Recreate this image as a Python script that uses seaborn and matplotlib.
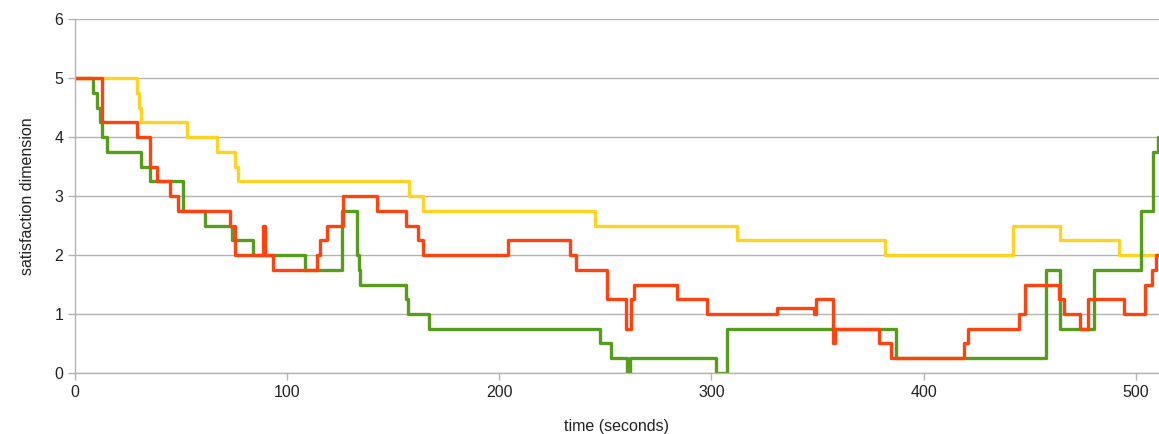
import pandas as pd
import seaborn as sns
import matplotlib.pyplot as plt

# step series: time (s) where the value changes, and the new value
yellow_t = [0, 29, 30, 31, 52.8, 67, 75.5, 77, 157.5, 164, 245, 312, 382, 442, 464.5, 492, 511]
yellow_v = [5, 4.75, 4.5, 4.25, 4.0, 3.75, 3.5, 3.25, 3.0, 2.75, 2.5, 2.25, 2.0, 2.5, 2.25, 2.0, 2.0]

red_t = [0, 12.6, 29, 35.4, 38.5, 44.8, 48.7, 73, 75.5, 88.8, 89.6, 93.5, 114.3, 115.5, 118.7,
         126.5, 142.3, 156, 161.7, 164, 204, 233.5, 236, 250.8, 259.7, 262.3, 263.3, 283.8, 298,
         330.7, 348.3, 349.5, 357.4, 358.5, 379, 384.8, 419, 421, 445, 448, 463.8, 466, 473.7,
         477.5, 494.5, 504.2, 507.9, 509.4, 511]
red_v = [5, 4.25, 4.0, 3.5, 3.25, 3.0, 2.75, 2.5, 2.0, 2.5, 2.0, 1.75, 2.0, 2.25, 2.5,
         3.0, 2.75, 2.5, 2.25, 2.0, 2.25, 2.0, 1.75, 1.25, 0.75, 1.25, 1.5, 1.25, 1.0,
         1.1, 1.0, 1.25, 0.5, 0.75, 0.5, 0.25, 0.5, 0.75, 1.0, 1.5, 1.25, 1.0, 0.75,
         1.25, 1.0, 1.5, 1.75, 2.0, 2.0]

green_t = [0, 8.6, 10.5, 11.8, 12.6, 14.9, 31, 35.4, 50.8, 61.3, 73.9, 84.1, 108.5, 126,
           133, 133.8, 134.5, 156, 157, 166.7, 247.5, 252.8, 260.3, 261.5, 302.2, 307.5,
           387.2, 457.5, 464.5, 480.5, 502.7, 508.3, 510.5, 511]
green_v = [5, 4.75, 4.5, 4.25, 4.0, 3.75, 3.5, 3.25, 2.75, 2.5, 2.25, 2.0, 1.75, 2.75,
           2.0, 1.75, 1.5, 1.25, 1.0, 0.75, 0.5, 0.25, 0, 0.25, 0, 0.75,
           0.25, 1.75, 0.75, 1.75, 2.75, 3.75, 4.0, 4.0]

sns.set_style("white")
plt.rcParams["font.family"] = ["Liberation Sans", "DejaVu Sans"]

fig = plt.figure(figsize=(11.59, 4.34), dpi=100)
ax = fig.add_axes([0.0647, 0.1406, 0.9353, 0.8154])

# yellow first, red last so it sits on top like in the original
series = [(yellow_t, yellow_v, "#FFD320"), (green_t, green_v, "#579D1C"), (red_t, red_v, "#FF420E")]
for t, v, c in series:
    df = pd.DataFrame({"time": t, "value": v})
    sns.lineplot(data=df, x="time", y="value", ax=ax, color=c, linewidth=2.4,
                 drawstyle="steps-post", estimator=None, sort=False)

ax.set_xlim(0, 511)
ax.set_ylim(0, 6)
ax.set_xticks([0, 100, 200, 300, 400, 500])
ax.set_yticks(range(7))
ax.yaxis.grid(True, color="#b3b3b3", linewidth=1)
ax.xaxis.grid(False)
ax.set_axisbelow(True)
for s in ["top", "right"]:
    ax.spines[s].set_visible(False)
for s in ["left", "bottom"]:
    ax.spines[s].set_color("#b3b3b3")
    ax.spines[s].set_linewidth(1)
ax.tick_params(axis="both", colors="#b3b3b3", labelcolor="#222222", labelsize=11.5,
               length=5, width=1, direction="out", left=True, bottom=True)
ax.set_xlabel("time (seconds)", fontsize=11.5, color="#222222", labelpad=14)
ax.set_ylabel("satisfaction dimension", fontsize=11.5, color="#222222", labelpad=14)

plt.savefig("out.png", dpi=100)
